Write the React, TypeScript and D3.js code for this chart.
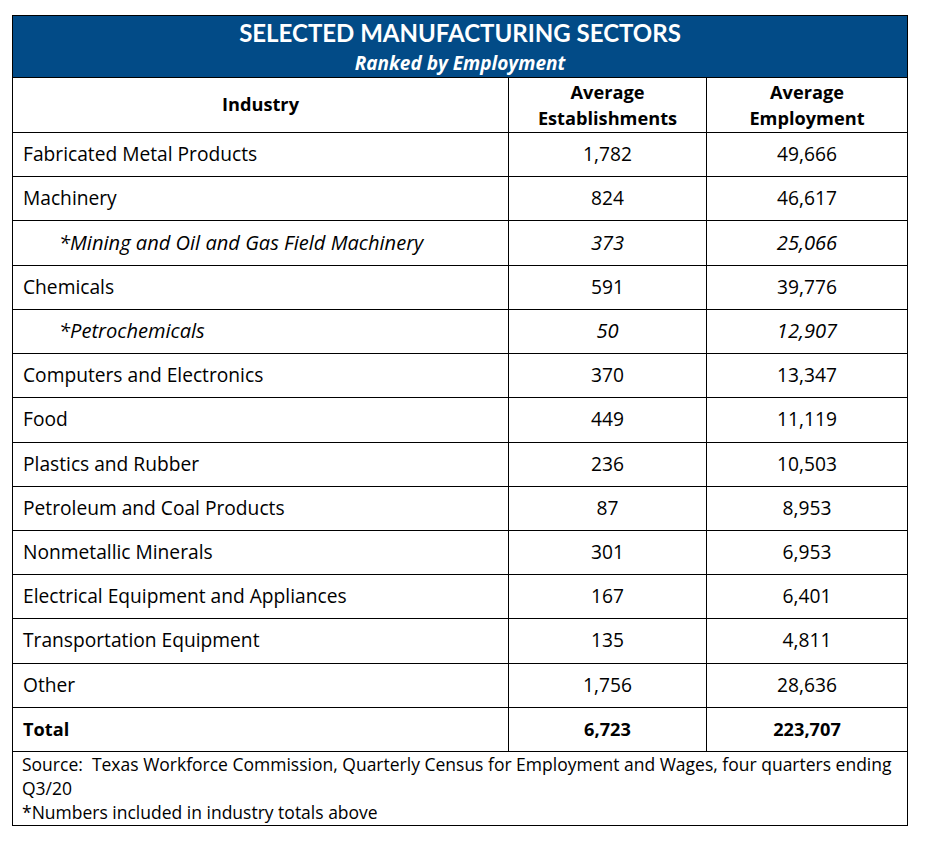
import React from "react";
import * as d3 from "d3";

const title = "SELECTED MANUFACTURING SECTORS";
const subtitle = "Ranked by Employment";
const headers = ["Industry", "Average\nEstablishments", "Average\nEmployment"];
const industries = [
  "Fabricated Metal Products",
  "Machinery",
  "*Mining and Oil and Gas Field Machinery",
  "Chemicals",
  "*Petrochemicals",
  "Computers and Electronics",
  "Food",
  "Plastics and Rubber",
  "Petroleum and Coal Products",
  "Nonmetallic Minerals",
  "Electrical Equipment and Appliances",
  "Transportation Equipment",
  "Other",
  "Total",
];
const establishments = [1782, 824, 373, 591, 50, 370, 449, 236, 87, 301, 167, 135, 1756, 6723];
const employment = [49666, 46617, 25066, 39776, 12907, 13347, 11119, 10503, 8953, 6953, 6401, 4811, 28636, 223707];
const subItems = [false, false, true, false, true, false, false, false, false, false, false, false, false, false];
const footnotes = [
  "Source:  Texas Workforce Commission, Quarterly Census for Employment and Wages, four quarters ending",
  "Q3/20",
  "*Numbers included in industry totals above",
];

const W = 931;
const H = 841;
const TFONT = "Lato, 'Open Sans', sans-serif";
const FONT = "'Open Sans', Lato, sans-serif";
const BLUE = "#024b87";

export default function App() {
  const left = 12.5;
  const right = 907.5;
  const top = 15.5;
  const bandBottom = 77.5;
  const headBottom = 132.5;
  const bodyBottom = 751.5;
  const bottom = 825.5;
  const colX = [left, 508.5, 706.5, right];

  const fmt = d3.format(",");
  const y = d3
    .scaleBand<number>()
    .domain(d3.range(industries.length))
    .range([headBottom, bodyBottom])
    .padding(0);

  const fs = 19.2;
  const fsItalic = 20.1;
  const fsBold = 18.2;
  const lastIdx = industries.length - 1;

  return (
    <svg width={W} height={H} style={{ position: "absolute", left: 0, top: 0, display: "block" }}>
      <rect x={0} y={0} width={W} height={H} fill="#fff" />
      <rect x={left} y={top} width={right - left} height={bandBottom - top} fill={BLUE} />
      <text x={460} y={42} textAnchor="middle" fill="#fff" fontFamily={TFONT} fontWeight={700} fontSize={24}>
        {title}
      </text>
      <text x={460} y={70} textAnchor="middle" fill="#fff" fontFamily={FONT} fontWeight={700} fontStyle="italic" fontSize={19}>
        {subtitle}
      </text>

      {/* header row */}
      <text x={(colX[0] + colX[1]) / 2} y={111} textAnchor="middle" fontFamily={FONT} fontWeight={700} fontSize={fsBold} fill="#000">
        {headers[0]}
      </text>
      {[1, 2].map((c) =>
        headers[c].split("\n").map((ln, i) => (
          <text
            key={`h${c}${i}`}
            x={(colX[c] + colX[c + 1]) / 2}
            y={99 + i * 26}
            textAnchor="middle"
            fontFamily={FONT}
            fontWeight={700}
            fontSize={fsBold}
            fill="#000"
          >
            {ln}
          </text>
        ))
      )}

      {/* body rows */}
      {industries.map((name, i) => {
        const cy = (y(i) as number) + y.bandwidth() / 2 + 6.5;
        const it = subItems[i];
        const bold = i === lastIdx;
        return (
          <g
            key={name}
            fontFamily={FONT}
            fontSize={it ? fsItalic : bold ? fsBold : fs}
            fill="#000"
            fontStyle={it ? "italic" : "normal"}
            fontWeight={bold ? 700 : 400}
          >
            <text x={it ? 59 : 23} y={cy}>{name}</text>
            <text x={(colX[1] + colX[2]) / 2} y={cy} textAnchor="middle">{fmt(establishments[i])}</text>
            <text x={(colX[2] + colX[3]) / 2} y={cy} textAnchor="middle">{fmt(employment[i])}</text>
          </g>
        );
      })}

      {/* grid lines */}
      <g stroke="#000" strokeWidth={1} fill="none" shapeRendering="crispEdges">
        <line x1={left} x2={right} y1={bandBottom} y2={bandBottom} />
        <line x1={left} x2={right} y1={headBottom} y2={headBottom} />
        {industries.map((_, i) => (
          <line key={i} x1={left} x2={right} y1={(y(i) as number) + y.bandwidth()} y2={(y(i) as number) + y.bandwidth()} />
        ))}
        <line x1={colX[1]} x2={colX[1]} y1={bandBottom} y2={bodyBottom} />
        <line x1={colX[2]} x2={colX[2]} y1={bandBottom} y2={bodyBottom} />
        <rect x={left} y={top} width={right - left} height={bottom - top} />
      </g>

      {/* footnotes */}
      {footnotes.map((f, i) => (
        <text key={i} x={22} y={771 + i * 24} fontFamily={FONT} fontSize={17.5} fill="#000" style={{ whiteSpace: "pre" }}>
          {f}
        </text>
      ))}
    </svg>
  );
}
